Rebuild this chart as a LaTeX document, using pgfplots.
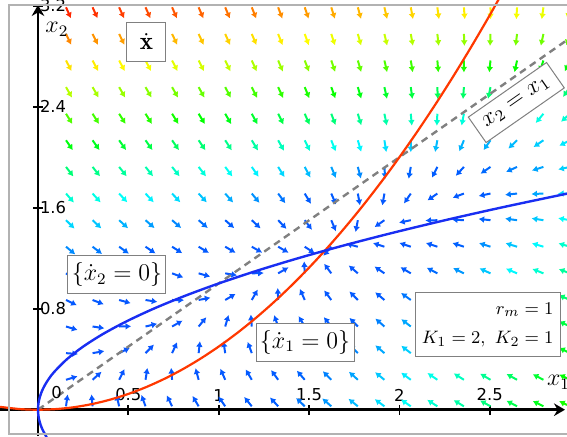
\documentclass[border=0pt]{standalone}
\usepackage{fontspec}
\newfontfamily\tickfont{DejaVu Sans}
\usepackage{pgfplots}
\pgfplotsset{compat=1.18}
\usepackage{pgfplotstable}
\usetikzlibrary{arrows.meta}

% Direction field of the system on a regular grid: (x, y) and the rates (u, v)
\pgfplotstableread{
x y u v
0.155 3.187 3.175 -10.002
0.302 3.187 3.142 -9.855
0.449 3.187 3.086 -9.708
0.595 3.187 3.010 -9.562
0.742 3.187 2.912 -9.415
0.889 3.187 2.792 -9.268
1.036 3.187 2.651 -9.121
1.183 3.187 2.488 -8.974
1.329 3.187 2.303 -8.828
1.476 3.187 2.097 -8.681
1.623 3.187 1.870 -8.534
1.770 3.187 1.621 -8.387
1.917 3.187 1.350 -8.240
2.063 3.187 1.058 -8.094
2.210 3.187 0.745 -7.947
2.357 3.187 0.409 -7.800
2.504 3.187 0.053 -7.653
2.651 3.187 -0.326 -7.506
2.797 3.187 -0.726 -7.360
2.944 3.187 -1.147 -7.213
0.155 2.976 2.964 -8.703
0.302 2.976 2.931 -8.557
0.449 2.976 2.876 -8.410
0.595 2.976 2.799 -8.263
0.742 2.976 2.701 -8.116
0.889 2.976 2.581 -7.969
1.036 2.976 2.440 -7.823
1.183 2.976 2.277 -7.676
1.329 2.976 2.093 -7.529
1.476 2.976 1.887 -7.382
1.623 2.976 1.659 -7.235
1.770 2.976 1.410 -7.089
1.917 2.976 1.140 -6.942
2.063 2.976 0.848 -6.795
2.210 2.976 0.534 -6.648
2.357 2.976 0.199 -6.501
2.504 2.976 -0.158 -6.355
2.651 2.976 -0.537 -6.208
2.797 2.976 -0.936 -6.061
2.944 2.976 -1.358 -5.914
0.155 2.766 2.754 -7.494
0.302 2.766 2.720 -7.347
0.449 2.766 2.665 -7.200
0.595 2.766 2.588 -7.053
0.742 2.766 2.490 -6.906
0.889 2.766 2.370 -6.760
1.036 2.766 2.229 -6.613
1.183 2.766 2.066 -6.466
1.329 2.766 1.882 -6.319
1.476 2.766 1.676 -6.172
1.623 2.766 1.449 -6.026
1.770 2.766 1.200 -5.879
1.917 2.766 0.929 -5.732
2.063 2.766 0.637 -5.585
2.210 2.766 0.323 -5.438
2.357 2.766 -0.012 -5.292
2.504 2.766 -0.369 -5.145
2.651 2.766 -0.747 -4.998
2.797 2.766 -1.147 -4.851
2.944 2.766 -1.569 -4.704
0.155 2.555 2.543 -6.373
0.302 2.555 2.509 -6.226
0.449 2.555 2.454 -6.079
0.595 2.555 2.378 -5.932
0.742 2.555 2.280 -5.785
0.889 2.555 2.160 -5.639
1.036 2.555 2.019 -5.492
1.183 2.555 1.856 -5.345
1.329 2.555 1.671 -5.198
1.476 2.555 1.465 -5.051
1.623 2.555 1.238 -4.905
1.770 2.555 0.989 -4.758
1.917 2.555 0.718 -4.611
2.063 2.555 0.426 -4.464
2.210 2.555 0.112 -4.317
2.357 2.555 -0.223 -4.171
2.504 2.555 -0.580 -4.024
2.651 2.555 -0.958 -3.877
2.797 2.555 -1.358 -3.730
2.944 2.555 -1.779 -3.583
0.155 2.344 2.332 -5.340
0.302 2.344 2.299 -5.194
0.449 2.344 2.244 -5.047
0.595 2.344 2.167 -4.900
0.742 2.344 2.069 -4.753
0.889 2.344 1.949 -4.606
1.036 2.344 1.808 -4.460
1.183 2.344 1.645 -4.313
1.329 2.344 1.461 -4.166
1.476 2.344 1.255 -4.019
1.623 2.344 1.027 -3.872
1.770 2.344 0.778 -3.726
1.917 2.344 0.508 -3.579
2.063 2.344 0.215 -3.432
2.210 2.344 -0.098 -3.285
2.357 2.344 -0.434 -3.138
2.504 2.344 -0.790 -2.992
2.651 2.344 -1.169 -2.845
2.797 2.344 -1.569 -2.698
2.944 2.344 -1.990 -2.551
0.155 2.134 2.122 -4.397
0.302 2.134 2.088 -4.250
0.449 2.134 2.033 -4.103
0.595 2.134 1.956 -3.956
0.742 2.134 1.858 -3.810
0.889 2.134 1.738 -3.663
1.036 2.134 1.597 -3.516
1.183 2.134 1.434 -3.369
1.329 2.134 1.250 -3.222
1.476 2.134 1.044 -3.076
1.623 2.134 0.816 -2.929
1.770 2.134 0.567 -2.782
1.917 2.134 0.297 -2.635
2.063 2.134 0.005 -2.488
2.210 2.134 -0.309 -2.342
2.357 2.134 -0.644 -2.195
2.504 2.134 -1.001 -2.048
2.651 2.134 -1.379 -1.901
2.797 2.134 -1.779 -1.754
2.944 2.134 -2.201 -1.608
0.155 1.923 1.911 -3.542
0.302 1.923 1.877 -3.395
0.449 1.923 1.822 -3.249
0.595 1.923 1.746 -3.102
0.742 1.923 1.647 -2.955
0.889 1.923 1.528 -2.808
1.036 1.923 1.386 -2.661
1.183 1.923 1.224 -2.515
1.329 1.923 1.039 -2.368
1.476 1.923 0.833 -2.221
1.623 1.923 0.606 -2.074
1.770 1.923 0.357 -1.927
1.917 1.923 0.086 -1.781
2.063 1.923 -0.206 -1.634
2.210 1.923 -0.520 -1.487
2.357 1.923 -0.855 -1.340
2.504 1.923 -1.212 -1.193
2.651 1.923 -1.590 -1.047
2.797 1.923 -1.990 -0.900
2.944 1.923 -2.411 -0.753
0.155 1.712 1.700 -2.776
0.302 1.712 1.667 -2.630
0.449 1.712 1.612 -2.483
0.595 1.712 1.535 -2.336
0.742 1.712 1.437 -2.189
0.889 1.712 1.317 -2.042
1.036 1.712 1.176 -1.896
1.183 1.712 1.013 -1.749
1.329 1.712 0.829 -1.602
1.476 1.712 0.623 -1.455
1.623 1.712 0.395 -1.308
1.770 1.712 0.146 -1.162
1.917 1.712 -0.125 -1.015
2.063 1.712 -0.417 -0.868
2.210 1.712 -0.730 -0.721
2.357 1.712 -1.066 -0.574
2.504 1.712 -1.422 -0.428
2.651 1.712 -1.801 -0.281
2.797 1.712 -2.201 -0.134
2.944 1.712 -2.622 0.013
0.155 1.501 1.489 -2.099
0.302 1.501 1.456 -1.952
0.449 1.501 1.401 -1.806
0.595 1.501 1.324 -1.659
0.742 1.501 1.226 -1.512
0.889 1.501 1.106 -1.365
1.036 1.501 0.965 -1.218
1.183 1.501 0.802 -1.072
1.329 1.501 0.618 -0.925
1.476 1.501 0.412 -0.778
1.623 1.501 0.184 -0.631
1.770 1.501 -0.065 -0.484
1.917 1.501 -0.335 -0.338
2.063 1.501 -0.627 -0.191
2.210 1.501 -0.941 -0.044
2.357 1.501 -1.276 0.103
2.504 1.501 -1.633 0.250
2.651 1.501 -2.011 0.396
2.797 1.501 -2.411 0.543
2.944 1.501 -2.833 0.690
0.155 1.291 1.279 -1.511
0.302 1.291 1.245 -1.364
0.449 1.291 1.190 -1.217
0.595 1.291 1.113 -1.071
0.742 1.291 1.015 -0.924
0.889 1.291 0.896 -0.777
1.036 1.291 0.754 -0.630
1.183 1.291 0.591 -0.483
1.329 1.291 0.407 -0.337
1.476 1.291 0.201 -0.190
1.623 1.291 -0.026 -0.043
1.770 1.291 -0.275 0.104
1.917 1.291 -0.546 0.251
2.063 1.291 -0.838 0.398
2.210 1.291 -1.152 0.544
2.357 1.291 -1.487 0.691
2.504 1.291 -1.844 0.838
2.651 1.291 -2.222 0.985
2.797 1.291 -2.622 1.132
2.944 1.291 -3.044 1.278
0.155 1.080 1.068 -1.011
0.302 1.080 1.035 -0.865
0.449 1.080 0.979 -0.718
0.595 1.080 0.903 -0.571
0.742 1.080 0.805 -0.424
0.889 1.080 0.685 -0.277
1.036 1.080 0.544 -0.131
1.183 1.080 0.381 0.016
1.329 1.080 0.196 0.163
1.476 1.080 -0.010 0.310
1.623 1.080 -0.237 0.457
1.770 1.080 -0.486 0.603
1.917 1.080 -0.757 0.750
2.063 1.080 -1.049 0.897
2.210 1.080 -1.363 1.044
2.357 1.080 -1.698 1.191
2.504 1.080 -2.055 1.337
2.651 1.080 -2.433 1.484
2.797 1.080 -2.833 1.631
2.944 1.080 -3.254 1.778
0.155 0.869 0.857 -0.601
0.302 0.869 0.824 -0.454
0.449 0.869 0.769 -0.307
0.595 0.869 0.692 -0.160
0.742 0.869 0.594 -0.014
0.889 0.869 0.474 0.133
1.036 0.869 0.333 0.280
1.183 0.869 0.170 0.427
1.329 0.869 -0.014 0.574
1.476 0.869 -0.220 0.721
1.623 0.869 -0.448 0.867
1.770 0.869 -0.697 1.014
1.917 0.869 -0.967 1.161
2.063 0.869 -1.260 1.308
2.210 0.869 -1.573 1.455
2.357 0.869 -1.908 1.601
2.504 0.869 -2.265 1.748
2.651 0.869 -2.644 1.895
2.797 0.869 -3.043 2.042
2.944 0.869 -3.465 2.189
0.155 0.659 0.647 -0.279
0.302 0.659 0.613 -0.132
0.449 0.659 0.558 0.015
0.595 0.659 0.481 0.162
0.742 0.659 0.383 0.308
0.889 0.659 0.263 0.455
1.036 0.659 0.122 0.602
1.183 0.659 -0.041 0.749
1.329 0.659 -0.225 0.896
1.476 0.659 -0.431 1.042
1.623 0.659 -0.659 1.189
1.770 0.659 -0.908 1.336
1.917 0.659 -1.178 1.483
2.063 0.659 -1.470 1.630
2.210 0.659 -1.784 1.776
2.357 0.659 -2.119 1.923
2.504 0.659 -2.476 2.070
2.651 0.659 -2.854 2.217
2.797 0.659 -3.254 2.364
2.944 0.659 -3.676 2.510
0.155 0.448 0.436 -0.046
0.302 0.448 0.402 0.101
0.449 0.448 0.347 0.248
0.595 0.448 0.271 0.395
0.742 0.448 0.173 0.542
0.889 0.448 0.053 0.688
1.036 0.448 -0.089 0.835
1.183 0.448 -0.251 0.982
1.329 0.448 -0.436 1.129
1.476 0.448 -0.642 1.276
1.623 0.448 -0.869 1.422
1.770 0.448 -1.118 1.569
1.917 0.448 -1.389 1.716
2.063 0.448 -1.681 1.863
2.210 0.448 -1.995 2.010
2.357 0.448 -2.330 2.156
2.504 0.448 -2.687 2.303
2.651 0.448 -3.065 2.450
2.797 0.448 -3.465 2.597
2.944 0.448 -3.886 2.744
0.155 0.237 0.225 0.099
0.302 0.237 0.192 0.246
0.449 0.237 0.137 0.392
0.595 0.237 0.060 0.539
0.742 0.237 -0.038 0.686
0.889 0.237 -0.158 0.833
1.036 0.237 -0.299 0.980
1.183 0.237 -0.462 1.126
1.329 0.237 -0.646 1.273
1.476 0.237 -0.852 1.420
1.623 0.237 -1.080 1.567
1.770 0.237 -1.329 1.714
1.917 0.237 -1.600 1.860
2.063 0.237 -1.892 2.007
2.210 0.237 -2.205 2.154
2.357 0.237 -2.541 2.301
2.504 0.237 -2.897 2.448
2.651 0.237 -3.276 2.594
2.797 0.237 -3.676 2.741
2.944 0.237 -4.097 2.888
0.155 0.027 0.015 0.154
0.302 0.027 -0.019 0.301
0.449 0.027 -0.074 0.448
0.595 0.027 -0.151 0.595
0.742 0.027 -0.249 0.742
0.889 0.027 -0.369 0.888
1.036 0.027 -0.510 1.035
1.183 0.027 -0.673 1.182
1.329 0.027 -0.857 1.329
1.476 0.027 -1.063 1.476
1.623 0.027 -1.291 1.622
1.770 0.027 -1.540 1.769
1.917 0.027 -1.810 1.916
2.063 0.027 -2.102 2.063
2.210 0.027 -2.416 2.210
2.357 0.027 -2.751 2.356
2.504 0.027 -3.108 2.503
2.651 0.027 -3.486 2.650
2.797 0.027 -3.886 2.797
2.944 0.027 -4.308 2.944
}\fieldtable

\definecolor{nullred}{rgb}{1,0.22,0}
\definecolor{nullblue}{rgb}{0.1,0.18,0.95}

\tikzset{lbox/.style={draw=black!50, fill=white, line width=0.5pt}}

\begin{document}
\begin{tikzpicture}
\useasboundingbox (0,0) rectangle (283.5pt,218pt);
\clip (0,0) rectangle (283.5pt,218pt);
\begin{axis}[
  at={(0,0)}, anchor=south west,
  scale only axis, width=283.5pt, height=218pt,
  xmin=-0.2103, xmax=2.9275, ymin=-0.2083, ymax=3.245,
  axis lines=middle,
  axis line style={line width=1.3pt},
  every inner x axis line/.append style={-{Stealth[length=5.5pt,width=6.3pt,inset=1.8pt]}, shorten >=1pt},
  every inner y axis line/.append style={-{Stealth[length=5.5pt,width=6.3pt,inset=1.8pt]}, shorten >=2.5pt},
  xtick={0.5,1,1.5,2,2.5},
  ytick={0.8,1.6,2.4,3.2},
  tick align=center,
  major tick length=5pt,
  tick style={line width=0.9pt, black},
  ticklabel style={font=\tickfont\fontsize{8.2}{9}\selectfont},
  /pgf/number format/assume math mode=true,
  xticklabel style={anchor=south, yshift=3.3pt},
  yticklabel style={anchor=west},
  colormap={field}{rgb(0pt)=(0.05,0.33,1); rgb(16pt)=(0,0.36,1); rgb(29pt)=(0,1,1); rgb(50pt)=(0,1,0); rgb(76pt)=(1,1,0); rgb(110pt)=(1,0,0)},
  point meta min=0, point meta max=11,
]

% direction field: arrows of equal length, coloured by the speed
\addplot[
  point meta={sqrt((\thisrow{u})^2+(\thisrow{v})^2)},
  quiver={
    u={(\thisrow{u})*0.6/sqrt((9.035*(\thisrow{u}))^2+(6.313*(\thisrow{v}))^2)},
    v={(\thisrow{v})*0.6/sqrt((9.035*(\thisrow{u}))^2+(6.313*(\thisrow{v}))^2)},
    colored=mapped color,
    every arrow/.append style={line width=1pt, -{Latex[length=2.8pt,width=3.4pt]}},
  },
] table[x=x, y=y] {\fieldtable};

% diagonal x2 = x1
\addplot[black!50, line width=1.2pt, dash pattern=on 3.5pt off 2.5pt] coordinates {(0,0) (3.0,3.0)};

% nullcline of x1: x2 = x1^2/2
\addplot[nullred, line width=1.1pt, smooth] coordinates {
(-0.22,0.0242) (-0.1,0.005) (0,0) (0.1,0.005) (0.2,0.02) (0.3,0.045) (0.4,0.08)
(0.5,0.125) (0.6,0.18) (0.7,0.245) (0.8,0.32) (0.9,0.405) (1.0,0.5) (1.1,0.605)
(1.2,0.72) (1.3,0.845) (1.4,0.98) (1.5,1.125) (1.6,1.28) (1.7,1.445) (1.8,1.62)
(1.9,1.805) (2.0,2.0) (2.1,2.205) (2.2,2.42) (2.3,2.645) (2.4,2.88) (2.5,3.125) (2.6,3.38)};

% nullcline of x2: x1 = x2^2
\addplot[nullblue, line width=1.2pt, smooth] coordinates {
(0.0484,-0.22) (0.0225,-0.15) (0.01,-0.1) (0.0025,-0.05) (0,0) (0.0025,0.05) (0.01,0.1)
(0.0225,0.15) (0.04,0.2) (0.0625,0.25) (0.09,0.3) (0.16,0.4) (0.25,0.5) (0.36,0.6)
(0.49,0.7) (0.64,0.8) (0.81,0.9) (1.0,1.0) (1.21,1.1) (1.44,1.2) (1.69,1.3) (1.96,1.4)
(2.25,1.5) (2.56,1.6) (2.89,1.7) (3.0625,1.75)};

% frame
\draw[black!30, line width=0.6pt] (axis cs:3.2,-0.1925) -- (axis cs:-0.1605,-0.1925)
  -- (axis cs:-0.1605,3.2056) -- (axis cs:3.2,3.2056);

% axis labels and origin
\node[anchor=base west, inner sep=0pt, font=\fontsize{11.6}{13}\selectfont] at (axis cs:0.039,2.986) {$x_2$};
\node[anchor=base west, inner sep=0pt, font=\fontsize{11.6}{13}\selectfont] at (axis cs:2.815,0.188) {$x_1$};
\node[inner sep=0pt, font=\tickfont\fontsize{8.2}{9}\selectfont] at (axis cs:0.1035,0.14) {0};

% annotations
\node[lbox, minimum size=19.5pt, inner sep=0pt, font=\fontsize{12.5}{14}\selectfont]
  at (axis cs:0.600,2.916) {$\dot{\mathbf{x}}$};
\node[lbox, minimum width=49pt, minimum height=19pt, inner sep=1pt, font=\fontsize{12}{14}\selectfont]
  at (axis cs:0.437,1.067) {$\{\dot{x}_2=0\}$};
\node[lbox, minimum width=49pt, minimum height=19pt, inner sep=1pt, font=\fontsize{12}{14}\selectfont]
  at (axis cs:1.478,0.534) {$\{\dot{x}_1=0\}$};
\node[lbox, align=right, minimum width=72.5pt, minimum height=32pt, inner sep=2pt, font=\fontsize{9.5}{14.3}\selectfont]
  at (axis cs:2.488,0.671) {$r_m=1$\\$K_1=2,\ K_2=1$};
\node[lbox, rotate=34.94, minimum width=47.7pt, minimum height=15.5pt, inner sep=0pt, font=\fontsize{11.5}{13}\selectfont]
  at (axis cs:2.647,2.433) {$x_2=x_1$};
\end{axis}
\end{tikzpicture}
\end{document}
